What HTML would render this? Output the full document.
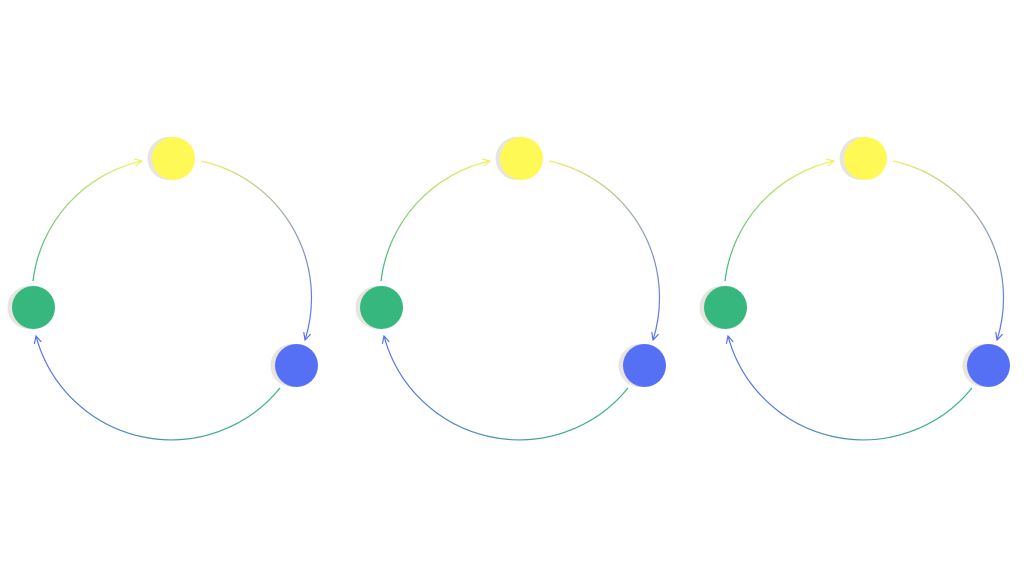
<!DOCTYPE html>
<html><head><style>html,body{margin:0;padding:0;background:#fff;}svg{display:block}</style></head>
<body>
<svg width="1024" height="576" viewBox="0 0 1024 576" xmlns="http://www.w3.org/2000/svg">
<defs>
<linearGradient id="g1" gradientUnits="userSpaceOnUse" x1="33" y1="281" x2="142" y2="161"><stop offset="0" stop-color="#36b77d"/><stop offset="1" stop-color="#f5f35a"/></linearGradient>
<linearGradient id="g2" gradientUnits="userSpaceOnUse" x1="201" y1="161" x2="305" y2="340"><stop offset="0" stop-color="#f0ef5e"/><stop offset="0.5" stop-color="#8f9fb0"/><stop offset="1" stop-color="#5670f5"/></linearGradient>
<linearGradient id="g3" gradientUnits="userSpaceOnUse" x1="280" y1="388" x2="36" y2="336"><stop offset="0" stop-color="#36b77d"/><stop offset="0.5" stop-color="#4a8fb8"/><stop offset="1" stop-color="#5670f5"/></linearGradient>
<marker id="ay" viewBox="0 0 10 10" refX="9" refY="5" markerWidth="9" markerHeight="9" markerUnits="userSpaceOnUse" orient="auto"><path d="M1 1 L9 5 L1 9" fill="none" stroke="#f0ef5e" stroke-width="1.3"/></marker>
<marker id="ab" viewBox="0 0 10 10" refX="9" refY="5" markerWidth="9" markerHeight="9" markerUnits="userSpaceOnUse" orient="auto"><path d="M1 1 L9 5 L1 9" fill="none" stroke="#5670f5" stroke-width="1.3"/></marker>
<g id="cyc">
<path d="M33 281 A140 140 0 0 1 142 161" fill="none" stroke="url(#g1)" stroke-width="1.2" marker-end="url(#ay)"/>
<path d="M201 161 A140 140 0 0 1 305 340" fill="none" stroke="url(#g2)" stroke-width="1.2" marker-end="url(#ab)"/>
<path d="M280 388 A140 140 0 0 1 36 336" fill="none" stroke="url(#g3)" stroke-width="1.2" marker-end="url(#ab)"/>
<circle cx="169" cy="158.5" r="21.5" fill="#e8e4df"/>
<circle cx="173.5" cy="158.5" r="21.5" fill="#fff955"/>
<circle cx="29" cy="307.5" r="21.5" fill="#e8e4df"/>
<circle cx="33.5" cy="307.5" r="21.5" fill="#36b77d"/>
<circle cx="292" cy="365.5" r="21.5" fill="#e8e4df"/>
<circle cx="296.5" cy="365.5" r="21.5" fill="#5670f5"/>
</g>
</defs>
<use href="#cyc"/>
<use href="#cyc" x="348"/>
<use href="#cyc" x="692"/>
</svg>
</body></html>
